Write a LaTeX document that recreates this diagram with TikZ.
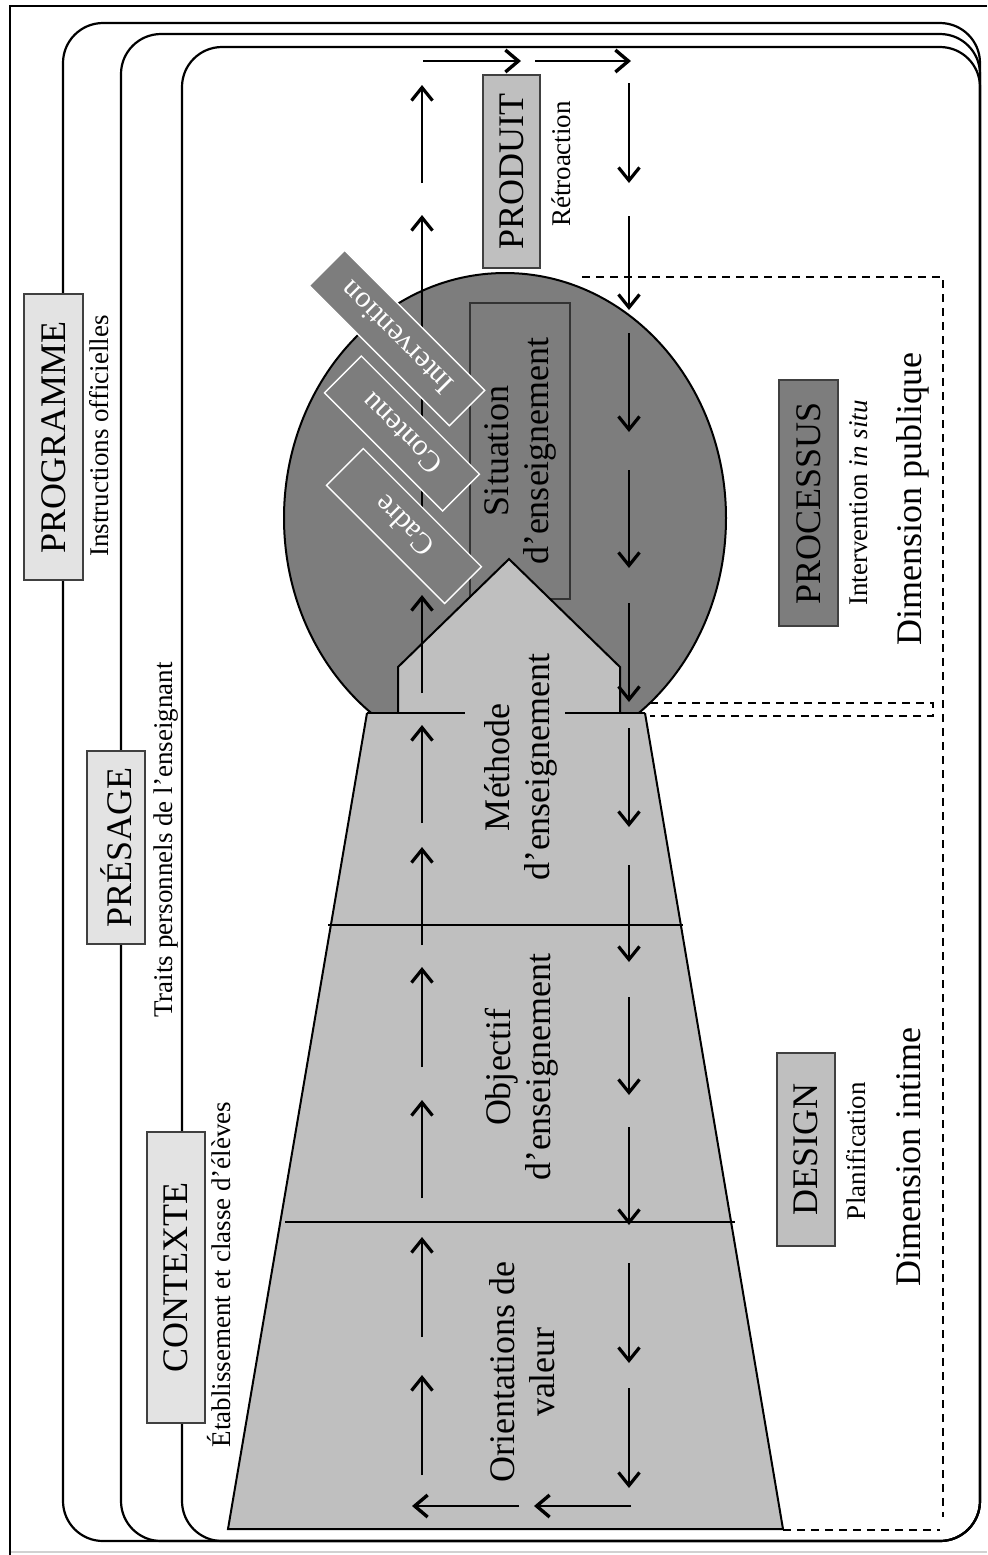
\documentclass[tikz,border=0pt]{standalone}
\usepackage{fontspec}
\setmainfont{Liberation Serif}
\usetikzlibrary{arrows.meta}
\definecolor{cLight}{gray}{0.89}
\definecolor{cMid}{gray}{0.75}
\definecolor{cDark}{gray}{0.49}
\newcommand{\fbig}{\fontsize{18}{20}\selectfont}
\newcommand{\fsmall}{\fontsize{13.5}{15.5}\selectfont}
\newcommand{\ftilt}{\fontsize{15}{17}\selectfont}
\tikzset{
 layerline/.style={line width=1.1pt, rounded corners=20pt},
 lblbox/.style={rotate=90, draw=black!75, line width=0.55pt, inner sep=0pt, font=\fbig, align=center},
 subtxt/.style={rotate=90, inner sep=0pt, anchor=base, font=\fsmall},
 dimtxt/.style={rotate=90, inner sep=0pt, anchor=base, font=\fbig},
 zonetxt/.style={rotate=90, inner sep=0pt, font=\fbig, align=center},
 tiltbox/.style={rotate=135, draw=white, line width=0.7pt, fill=cDark, text=white, font=\ftilt, inner sep=0pt},
 uparr/.style={line width=0.85pt, -{Straight Barb[length=6.5pt,width=10.5pt,line width=1.6pt]}},
 harr/.style={line width=1.4pt, -{Straight Barb[length=6.5pt,width=11pt,line width=1.7pt]}},
 dashline/.style={dash pattern=on 4pt off 3pt, line width=0.75pt},
 thinline/.style={line width=0.6pt},
 shapeline/.style={line width=1pt}
}
\begin{document}
\begin{tikzpicture}[x=0.5pt,y=-0.5pt]
\useasboundingbox (0,0) rectangle (987,1555);
% frame
\coordinate (fTR) at (987,6);
\coordinate (fTL) at (10,6);
\coordinate (fBL) at (10,1555);
\draw[line width=1.2pt] (fTR) -- (fTL) -- (fBL);
\coordinate (gL) at (11,1552);
\coordinate (gR) at (987,1552);
\draw[black!18, line width=0.7pt] (gL) -- (gR);

% nested layers
\draw[layerline] (63,800) -- (63,23) -- (980,23) -- (980,1541) -- (63,1541) -- cycle;
\draw[layerline] (121,800) -- (121,34) -- (980,34) -- (980,1541) -- (121,1541) -- cycle;
\draw[layerline] (182,800) -- (182,47) -- (980,47) -- (980,1541) -- (182,1541) -- cycle;

% layer labels
\node[lblbox, fill=cLight, minimum width=143pt, minimum height=29.5pt] (prog) at (53.5,437) {PROGRAMME};
\node[subtxt] (progs) at (108,436) {Instructions officielles};
\node[lblbox, fill=cLight, minimum width=96.5pt, minimum height=29pt] (pres) at (116,847.5) {PRÉSAGE};
\node[subtxt] (press) at (172,840) {Traits personnels de l’enseignant};
\node[lblbox, fill=cLight, minimum width=145.5pt, minimum height=29pt] (ctx) at (176,1277.5) {CONTEXTE};
\node[subtxt] (ctxs) at (230,1274.5) {Établissement et classe d’élèves};

% dashed zones
\coordinate (d1) at (582,277);
\coordinate (d2) at (943,277);
\coordinate (d3) at (943,1517);
\draw[dashline] (d1) -- (d2) -- (d3);
\coordinate (d4) at (650,703);
\coordinate (d5) at (933,703);
\coordinate (d6) at (933,716);
\coordinate (d7) at (650,716);
\draw[dashline] (d4) -- (d5) -- (d6) -- (d7);
\coordinate (d8) at (783,1530);
\coordinate (d9) at (940,1530);
\draw[dashline] (d8) -- (d9);

% right labels
\node[lblbox, fill=cDark, minimum width=123pt, minimum height=29.5pt] (proc) at (808.5,503) {PROCESSUS};
\node[subtxt] (procs) at (867,503) {Intervention \textit{in situ}};
\node[dimtxt] (dimp) at (921,499) {Dimension publique};
\node[lblbox, fill=cMid, minimum width=96.5pt, minimum height=29pt] (des) at (806,1149.5) {DESIGN};
\node[subtxt] (dess) at (865,1151) {Planification};
\node[dimtxt] (dimi) at (920,1157) {Dimension intime};

% product
\node[lblbox, fill=cMid, minimum width=96.5pt, minimum height=28.5pt] (prod) at (511.5,171.5) {PRODUIT};
\node[subtxt] (prods) at (570,164) {Rétroaction};

% ellipse (process)
\draw[shapeline, fill=cDark] (505,518) ellipse [x radius=110.5pt, y radius=122.5pt];
\node[lblbox, draw=black!80, fill=cDark, minimum width=148pt, minimum height=50pt] (sit) at (520,451) {Situation\\d’enseignement};

% trapezoid
\fill[cMid] (367,713) -- (228,1529) -- (783,1529) -- (645,713) -- cycle;
\draw[shapeline] (367,713) -- (228,1529) -- (783,1529) -- (645,713);
% house
\draw[shapeline, fill=cMid] (398,713) -- (398,667) -- (509,559) -- (620,667) -- (620,713);
\draw[shapeline] (367,713) -- (465,713);
\draw[shapeline] (565,713) -- (645,713);
% dividers
\draw[thinline] (328,925) -- (683,925);
\draw[thinline] (285,1222) -- (735,1222);

% left column arrows (upwards)
\foreach \s/\t [count=\i] in {1475/1375,1337/1237,1198/1100,1067/967,945/847,823/725,693/595,570/215,183/85} {
  \coordinate (ua\i) at (422,\s);
  \coordinate (ub\i) at (422,\t);
  \draw[uparr] (ua\i) -- (ub\i);
}
% right column arrows (downwards)
\foreach \s/\t [count=\i] in {83/183,216/310,333/432,470/568,603/702,728/827,865/962,997/1095,1127/1225,1263/1363,1388/1488} {
  \coordinate (da\i) at (629,\s);
  \coordinate (db\i) at (629,\t);
  \draw[uparr] (da\i) -- (db\i);
}
% horizontal arrows
\coordinate (ta1) at (423,61);
\coordinate (tb1) at (521,61);
\coordinate (ta2) at (535,61);
\coordinate (tb2) at (631,61);
\draw[harr] (ta1) -- (tb1);
\draw[harr] (ta2) -- (tb2);
\coordinate (ba1) at (631,1506);
\coordinate (bb1) at (534,1506);
\coordinate (ba2) at (519,1506);
\coordinate (bb2) at (412,1506);
\draw[harr] (ba1) -- (bb1);
\draw[harr] (ba2) -- (bb2);

% tilted boxes
\node[tiltbox, minimum width=83.5pt, minimum height=26pt] (cadre) at (404,526) {Cadre};
\node[tiltbox, minimum width=83.5pt, minimum height=26pt] (cont) at (402,433.5) {Contenu};
\node[tiltbox, minimum width=99pt, minimum height=25pt] (interv) at (397,338) {Intervention};

% zone texts
\node[zonetxt] (meth) at (521,767) {Méthode\\d’enseignement};
\node[zonetxt] (obj) at (522,1067) {Objectif\\d’enseignement};
\node[zonetxt] (orient) at (522,1372) {Orientations de\\valeur};
\end{tikzpicture}
\end{document}
